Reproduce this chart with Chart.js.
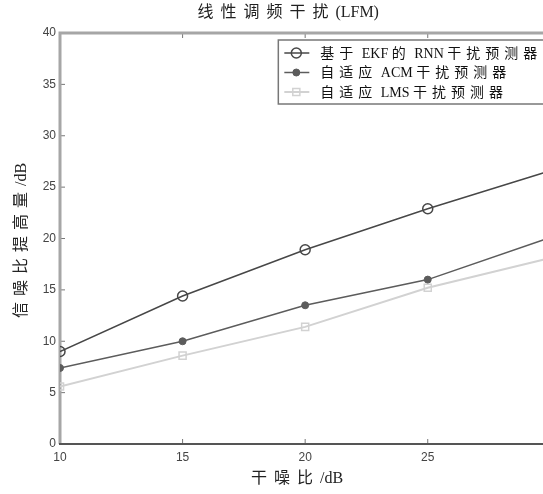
<!DOCTYPE html>
<html>
<head>
<meta charset="utf-8">
<title>线性调频干扰(LFM)</title>
<script src="https://cdn.jsdelivr.net/npm/chart.js@4.4.0/dist/chart.umd.min.js"></script>
<style>
html, body { margin: 0; padding: 0; background: #fff; overflow: hidden; }
canvas { display: block; }
</style>
</head>
<body>
<canvas id="snr" width="563" height="494"></canvas>
<script>
// interference-to-noise ratio (dB) and SNR improvement (dB) per predictor
var jnr = [10, 15, 20, 25, 30];
var rnnEkf = [9.0, 14.4, 18.9, 22.9, 26.6];
var acm = [7.4, 10.0, 13.5, 16.0, 20.1];
var lms = [5.6, 8.6, 11.4, 15.2, 18.1];
var seriesNames = ['基于 EKF 的 RNN 干扰预测器', '自适应 ACM 干扰预测器', '自适应 LMS 干扰预测器'];
var chartTitle = '线性调频干扰(LFM)';
var xTitle = '干噪比/dB';
var yTitle = '信噪比提高量/dB';

var textFont = '"Liberation Serif", "Noto Sans CJK SC", serif';
var tickFont = { family: '"Liberation Sans", sans-serif', size: 12 };

function toPoints(ys) {
    return ys.map(function (v, i) { return { x: jnr[i], y: v }; });
}

function isWide(ch) { return ch.charCodeAt(0) > 0x2e80; }

// CJK glyphs get an extra gap after them, latin runs stay tight
function spacedWidth(ctx, text, gap) {
    var w = 0;
    for (var i = 0; i < text.length; i++) {
        w += ctx.measureText(text[i]).width;
        if (isWide(text[i]) && i < text.length - 1) w += gap;
    }
    return w;
}

function drawSpaced(ctx, text, x, y, gap) {
    for (var i = 0; i < text.length; i++) {
        ctx.fillText(text[i], x, y);
        x += ctx.measureText(text[i]).width;
        if (isWide(text[i])) x += gap;
    }
}

var framePlugin = {
    id: 'frame',
    beforeDatasetsDraw: function (chart) {
        var ctx = chart.ctx, a = chart.chartArea;
        var xs = chart.scales.x, ys = chart.scales.y;
        ctx.save();
        // small inward ticks
        ctx.strokeStyle = '#777';
        ctx.lineWidth = 1;
        ctx.beginPath();
        xs.ticks.forEach(function (t) {
            var px = xs.getPixelForValue(t.value);
            ctx.moveTo(px, a.bottom); ctx.lineTo(px, a.bottom - 5);
            ctx.moveTo(px, a.top); ctx.lineTo(px, a.top + 5);
        });
        ys.ticks.forEach(function (t) {
            var py = ys.getPixelForValue(t.value);
            ctx.moveTo(a.left, py); ctx.lineTo(a.left + 5, py);
            ctx.moveTo(a.right, py); ctx.lineTo(a.right - 5, py);
        });
        ctx.stroke();
        // box: light heavy frame, darker bottom axis
        ctx.lineWidth = 3;
        ctx.strokeStyle = '#a6a6a6';
        ctx.beginPath();
        ctx.moveTo(a.left, a.bottom);
        ctx.lineTo(a.left, a.top);
        ctx.lineTo(a.right, a.top);
        ctx.lineTo(a.right, a.bottom);
        ctx.stroke();
        ctx.lineWidth = 2;
        ctx.strokeStyle = '#555';
        ctx.beginPath();
        ctx.moveTo(a.left - 1, a.bottom);
        ctx.lineTo(a.right, a.bottom);
        ctx.stroke();
        ctx.restore();
    }
};

var textPlugin = {
    id: 'texts',
    afterDraw: function (chart) {
        var ctx = chart.ctx, a = chart.chartArea;
        var cx = (a.left + a.right) / 2;
        ctx.save();
        ctx.fillStyle = '#222';
        ctx.textBaseline = 'middle';
        ctx.textAlign = 'left';

        // chart title
        ctx.font = '16px ' + textFont;
        var w = spacedWidth(ctx, chartTitle, 7);
        drawSpaced(ctx, chartTitle, cx - 17 - w / 2, 13, 7);

        // x axis title
        w = spacedWidth(ctx, xTitle, 7);
        drawSpaced(ctx, xTitle, cx - 8 - w / 2, 479, 7);

        // y axis title, rotated
        ctx.save();
        ctx.translate(22, (a.top + a.bottom) / 2 + 2);
        ctx.rotate(-Math.PI / 2);
        w = spacedWidth(ctx, yTitle, 6);
        drawSpaced(ctx, yTitle, -w / 2, 0, 6);
        ctx.restore();

        // legend box in the upper right of the plot
        ctx.font = '14px ' + textFont;
        var maxW = 0;
        seriesNames.forEach(function (s) { maxW = Math.max(maxW, spacedWidth(ctx, s, 5)); });
        var boxW = maxW + 50;
        var boxH = 64;
        var bx = a.right - 5 - boxW;
        var by = a.top + 7;
        ctx.fillStyle = '#fff';
        ctx.fillRect(bx, by, boxW, boxH);
        ctx.strokeStyle = '#777';
        ctx.lineWidth = 1.5;
        ctx.strokeRect(bx, by, boxW, boxH);

        chart.data.datasets.forEach(function (ds, i) {
            var ry = by + 13 + i * 19.5;
            ctx.strokeStyle = ds.borderColor;
            ctx.lineWidth = ds.borderWidth;
            ctx.beginPath();
            ctx.moveTo(bx + 6, ry);
            ctx.lineTo(bx + 31, ry);
            ctx.stroke();
            ctx.fillStyle = ds.pointBackgroundColor;
            ctx.strokeStyle = ds.pointBorderColor;
            ctx.lineWidth = ds.pointBorderWidth;
            Chart.helpers.drawPoint(ctx, {
                pointStyle: ds.pointStyle,
                radius: ds.pointRadius,
                rotation: 0,
                borderWidth: ds.pointBorderWidth
            }, bx + 18, ry);
            ctx.fillStyle = '#111';
            drawSpaced(ctx, ds.label, bx + 42, ry + 1, 5);
        });
        ctx.restore();
    }
};

window.addEventListener('load', function () {
    var ctx = document.getElementById('snr').getContext('2d');
    new Chart(ctx, {
        type: 'line',
        data: {
            datasets: [
                {
                    label: seriesNames[0],
                    data: toPoints(rnnEkf),
                    borderColor: '#474747',
                    borderWidth: 1.5,
                    pointStyle: 'circle',
                    pointRadius: 5,
                    pointBorderWidth: 1.5,
                    pointBorderColor: '#474747',
                    pointBackgroundColor: 'rgba(255,255,255,0)'
                },
                {
                    label: seriesNames[1],
                    data: toPoints(acm),
                    borderColor: '#5c5c5c',
                    borderWidth: 1.5,
                    pointStyle: 'circle',
                    pointRadius: 3.5,
                    pointBorderWidth: 1,
                    pointBorderColor: '#5c5c5c',
                    pointBackgroundColor: '#5c5c5c'
                },
                {
                    label: seriesNames[2],
                    data: toPoints(lms),
                    borderColor: '#d2d2d2',
                    borderWidth: 2,
                    pointStyle: 'rect',
                    pointRadius: 5,
                    pointBorderWidth: 1.5,
                    pointBorderColor: '#d2d2d2',
                    pointBackgroundColor: 'rgba(255,255,255,0)'
                }
            ]
        },
        options: {
            responsive: false,
            animation: false,
            layout: { padding: { top: 33, right: 0, left: 0, bottom: 0 } },
            plugins: {
                legend: { display: false },
                title: { display: false },
                tooltip: { enabled: false }
            },
            scales: {
                x: {
                    type: 'linear',
                    min: 10,
                    max: 30,
                    grid: { display: false, drawTicks: false },
                    border: { display: false },
                    ticks: {
                        stepSize: 5,
                        padding: 6,
                        color: '#444',
                        font: tickFont
                    },
                    afterFit: function (s) { s.height = 50; }
                },
                y: {
                    min: 0,
                    max: 40,
                    grid: { display: false, drawTicks: false },
                    border: { display: false },
                    ticks: {
                        stepSize: 5,
                        padding: 4,
                        color: '#444',
                        font: tickFont
                    },
                    afterFit: function (s) { s.width = 60; }
                }
            }
        },
        plugins: [framePlugin, textPlugin]
    });
});
</script>
</body>
</html>
